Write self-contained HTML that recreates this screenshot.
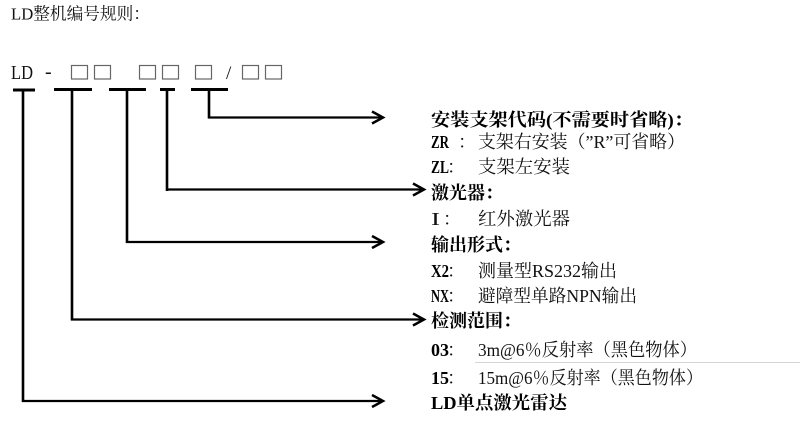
<!DOCTYPE html>
<html>
<head>
<meta charset="utf-8">
<style>
html,body{margin:0;padding:0;background:#fff;}
svg{display:block;}
text{font-family:"Liberation Serif","Noto Serif CJK SC",serif;fill:#111;}
.b{font-weight:bold;fill:#000;}
</style>
</head>
<body>
<svg width="800" height="421" viewBox="0 0 800 421" xmlns="http://www.w3.org/2000/svg">
  <rect width="800" height="421" fill="#fff"/>
  <!-- title -->
  <text x="11" y="19.5" font-size="17" textLength="139" lengthAdjust="spacingAndGlyphs">LD整机编号规则：</text>

  <!-- code line -->
  <text x="11" y="79" font-size="20" textLength="22" lengthAdjust="spacingAndGlyphs">LD</text>
  <text x="45" y="78" font-size="20">-</text>
  <g fill="none" stroke="#666" stroke-width="1.2">
    <rect x="71.5" y="65.5" width="16" height="13.5"/>
    <rect x="94.5" y="65.5" width="16" height="13.5"/>
    <rect x="139.5" y="65.5" width="16" height="13.5"/>
    <rect x="162.5" y="65.5" width="16" height="13.5"/>
    <rect x="195.5" y="65.5" width="16" height="13.5"/>
    <rect x="242.5" y="65.5" width="16" height="13.5"/>
    <rect x="265.5" y="65.5" width="16" height="13.5"/>
  </g>
  <text x="226" y="79" font-size="19" fill="#555">/</text>

  <!-- T bars -->
  <g fill="#000">
    <rect x="13" y="88.5" width="22" height="3"/>
    <rect x="54" y="88" width="38" height="3"/>
    <rect x="109" y="88" width="37" height="3"/>
    <rect x="160" y="88" width="15" height="3"/>
    <rect x="191" y="88" width="37" height="3"/>
  </g>
  <g fill="none" stroke="#000" stroke-width="2.6">
    <line x1="23" y1="90" x2="23" y2="402"/>
    <line x1="72" y1="90" x2="72" y2="320.5"/>
    <line x1="127" y1="90" x2="127" y2="243"/>
    <line x1="167" y1="90" x2="167" y2="191"/>
    <line x1="209" y1="90" x2="209" y2="118.5"/>
  </g>
  <g fill="none" stroke="#000" stroke-width="2.2">
    <line x1="22" y1="401" x2="383" y2="401"/>
    <line x1="71" y1="319.5" x2="424" y2="319.5"/>
    <line x1="126" y1="242" x2="383" y2="242"/>
    <line x1="166" y1="189.5" x2="424" y2="189.5"/>
    <line x1="208" y1="117.5" x2="383" y2="117.5"/>
  </g>
  <g fill="none" stroke="#000" stroke-width="2.5" stroke-linejoin="miter">
    <polyline points="372,111.5 383,117.5 372,123.5"/>
    <polyline points="413,183.5 424,189.5 413,195.5"/>
    <polyline points="372,236 383,242 372,248"/>
    <polyline points="413,313.5 424,319.5 413,325.5"/>
    <polyline points="372,395 383,401 372,407"/>
  </g>

  <!-- separator line -->
  <line x1="475" y1="362.5" x2="800" y2="362.5" stroke="#d4d4d4" stroke-width="1"/>

  <!-- right column text -->
  <g font-size="18">
    <text class="b" x="431" y="126" textLength="262" lengthAdjust="spacingAndGlyphs">安装支架代码(不需要时省略)：</text>

    <text class="b" x="431" y="148" textLength="18" lengthAdjust="spacingAndGlyphs">ZR</text>
    <text x="458" y="148">：</text>
    <text x="478" y="148" textLength="207" lengthAdjust="spacingAndGlyphs">支架右安装（”R”可省略）</text>

    <text class="b" x="431" y="173" textLength="18" lengthAdjust="spacingAndGlyphs">ZL</text>
    <text x="447" y="173">：</text>
    <text x="478" y="173" textLength="92" lengthAdjust="spacingAndGlyphs">支架左安装</text>

    <text class="b" x="431" y="199">激光器：</text>

    <text x="431" y="225" textLength="9" lengthAdjust="spacingAndGlyphs">I</text>
    <text x="443" y="225">：</text>
    <text x="478" y="225" textLength="92" lengthAdjust="spacingAndGlyphs">红外激光器</text>

    <text class="b" x="431" y="251">输出形式：</text>

    <text class="b" x="431" y="277" textLength="18" lengthAdjust="spacingAndGlyphs">X2</text>
    <text x="447" y="277">：</text>
    <text x="478" y="277" textLength="139" lengthAdjust="spacingAndGlyphs">测量型RS232输出</text>

    <text class="b" x="431" y="302" textLength="18" lengthAdjust="spacingAndGlyphs">NX</text>
    <text x="447" y="302">：</text>
    <text x="478" y="302" textLength="159" lengthAdjust="spacingAndGlyphs">避障型单路NPN输出</text>

    <text class="b" x="431" y="327">检测范围：</text>

    <text class="b" x="431" y="356" textLength="18" lengthAdjust="spacingAndGlyphs">03</text>
    <text x="447" y="356">：</text>
    <text x="478" y="356" textLength="219" lengthAdjust="spacingAndGlyphs">3m@6％反射率（黑色物体）</text>

    <text class="b" x="431" y="384" textLength="18" lengthAdjust="spacingAndGlyphs">15</text>
    <text x="447" y="384">：</text>
    <text x="478" y="384" textLength="225" lengthAdjust="spacingAndGlyphs">15m@6％反射率（黑色物体）</text>

    <text class="b" x="431" y="409" textLength="136" lengthAdjust="spacingAndGlyphs">LD单点激光雷达</text>
  </g>
</svg>
</body>
</html>
